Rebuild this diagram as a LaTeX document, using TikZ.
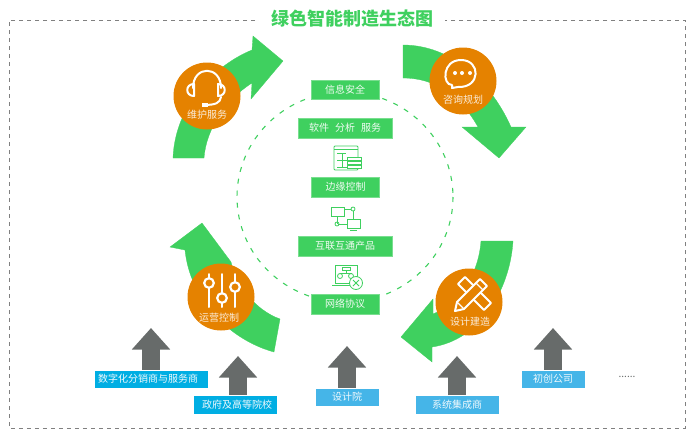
\documentclass[tikz,border=0pt]{standalone}
\usepackage{fontspec}
\setmainfont{Noto Sans CJK SC}
\usetikzlibrary{arrows.meta}
\definecolor{leaf}{HTML}{3FD05F}
\definecolor{amber}{HTML}{E58200}
\definecolor{slate}{HTML}{676B6A}
\definecolor{deepblue}{HTML}{00AEE3}
\definecolor{skyblue}{HTML}{45B5E8}
\tikzstyle{layerbox}=[fill=leaf,draw=leaf!70!white,line width=0.4pt,text=white!92!leaf,font=\fontsize{10}{10}\selectfont,inner sep=0pt,minimum height=19.5pt]
\tikzstyle{partnerbox}=[draw=white,line width=0.3pt,text=white!92!skyblue,font=\fontsize{10}{10}\selectfont,inner sep=0pt,minimum height=18.5pt]
\tikzstyle{stagedot}=[circle,fill=amber,minimum size=67pt,inner sep=0pt]
\tikzstyle{stagetext}=[text=white!85!amber,font=\fontsize{10}{10}\selectfont,inner sep=0pt]
\tikzstyle{support}=[slate,line width=18pt,-{Triangle[length=21.5pt,width=37pt]}]
\tikzstyle{swoosh}=[fill=leaf,draw=leaf,line width=0.3pt]
\tikzstyle{glyph}=[white,line width=2pt,line cap=round,line join=round]
\tikzstyle{iconline}=[leaf,line width=0.8pt]
\begin{document}
\begin{tikzpicture}[x=1pt,y=-1pt]
	\useasboundingbox (0,0) rectangle (693,437);
	\draw[gray,line width=0.8pt,dash pattern=on 4pt off 4pt] (255,20) -- (9,20) -- (9,428) -- (685,428) -- (685,20) -- (445,20);
	\node[text=leaf,font=\fontsize{18}{18}\bfseries\selectfont,inner sep=0pt] (title) at (352,19) {绿色智能制造生态图};
	\draw[leaf,line width=1.1pt,dash pattern=on 5pt off 7pt] (345,197) ellipse (108 and 105);

	\draw[swoosh] (173,158) .. controls (175,105) and (215,65) .. (252,50) -- (253,36) -- (283,61) -- (251,99) -- (252,83) .. controls (225,100) and (206,130) .. (204,158) -- cycle;
	\draw[swoosh] (403,45) .. controls (450,45) and (490,80) .. (511,127) -- (526,127) -- (499,158) -- (462,127) -- (478,127) .. controls (460,95) and (435,78) .. (403,78) -- cycle;
	\draw[swoosh] (513,241) .. controls (510,290) and (480,340) .. (432,347) -- (432,362) -- (401,337) -- (433,299) -- (433,314) .. controls (455,305) and (478,280) .. (481,241) -- cycle;
	\draw[swoosh] (274,352) .. controls (230,340) and (190,300) .. (185,250) -- (170,247) -- (202,223) -- (231,262) .. controls (236,285) and (255,310) .. (280,319) -- cycle;

	\node[stagedot] (repair) at (207,96) {};
	\node[stagedot] (consult) at (463,81) {};
	\node[stagedot] (build) at (469,302) {};
	\node[stagedot] (operate) at (221,297) {};
	\node[stagetext] (repairtext) at (207,115) {维护服务};
	\node[stagetext] (consulttext) at (463,100) {咨询规划};
	\node[stagetext] (buildtext) at (470,322) {设计建造};
	\node[stagetext] (operatetext) at (219,318) {运营控制};

	\draw[glyph] (193,88) .. controls (193,65) and (221,65) .. (221,88);
	\draw[glyph] (194,84) .. controls (185,84) and (185,96) .. (194,96) -- cycle;
	\draw[glyph] (218,84) .. controls (227,84) and (227,96) .. (218,96) -- cycle;
	\draw[glyph] (221,97) .. controls (220,103) and (216,105) .. (203,105);
	\fill[white] (202,103) rectangle (208,107);
	\draw[glyph] (461,60) .. controls (442,60) and (442,85) .. (452,85) -- (452,88) -- (458,87) .. controls (481,88) and (481,60) .. (461,60) -- cycle;
	\foreach \dotx in {455,462,470}
		\fill[white] (\dotx,73) circle (2);

	\foreach \bary/\barx in {283/209,298/222,287/235}{
		\draw[glyph] (\barx,274) -- (\barx,307);
		\draw[white,fill=amber,line width=2.2pt] (\barx,\bary) circle (4.8);
	}

	\draw[glyph] (458,284) -- (465,277) -- (491,303) -- (484,310) -- cycle;
	\draw[glyph,fill=amber] (455,311) -- (457,302) -- (480,279) -- (487,286) -- (464,309) -- cycle;
	\draw[glyph,line width=1.2pt] (476,283) -- (483,290) (457,302) -- (464,309);

	\node[layerbox,minimum width=68pt] (security) at (345,89.5) {信息安全};
	\node[layerbox,minimum width=94pt] (software) at (345,128) {软件\hspace{0.6em}分析\hspace{0.6em}服务};
	\node[layerbox,minimum width=68pt] (edge) at (345.5,187) {边缘控制};
	\node[layerbox,minimum width=94pt] (product) at (345,246) {互联互通产品};
	\node[layerbox,minimum width=68pt] (protocol) at (345,304) {网络协议};

	\draw[iconline,rounded corners=1pt] (334,146) rectangle (358,170);
	\draw[iconline] (334,149) -- (358,149);
	\draw[iconline] (337,153) -- (346,153) (337,160) -- (347,160) (337,167) -- (350,167) (342,153) -- (342,167);
	\foreach \rowy in {157,161,165}
		\draw[iconline,fill=white] (347,\rowy) rectangle (361,\rowy+3.5);

	\draw[iconline] (331,207) rectangle (344,216);
	\draw[iconline] (347,219) rectangle (360,228);
	\draw[iconline] (344,209) -- (351,209) (337,216) -- (337,224) (338,224) -- (347,224) (353,211) -- (353,219) (350,230) -- (357,230);
	\draw[iconline] (353,209) circle (2) (337,224) circle (2);

	\draw[iconline] (335,265) rectangle (357,283);
	\draw[iconline] (332,285) -- (352,285);
	\draw[iconline] (342,267) rectangle (350,270) (346,270) -- (346,273) (340,273) -- (352,273);
	\draw[iconline] (340,276) circle (2.5) (351,276) circle (2.5);
	\draw[iconline,fill=white] (356,283) circle (6.5);
	\draw[iconline] (353,280) -- (359,286) (359,280) -- (353,286);

	\node[partnerbox,fill=deepblue,minimum width=114pt] (dealer) at (151,379) {数字化分销商与服务商\hspace*{6pt}};
	\node[partnerbox,fill=deepblue,minimum width=84pt] (school) at (235,404.5) {\hspace*{4pt}政府及高等院校};
	\node[partnerbox,fill=skyblue,minimum width=64pt] (institute) at (347,397) {设计院};
	\node[partnerbox,fill=skyblue,minimum width=84pt] (integrator) at (457,404.5) {系统集成商};
	\node[partnerbox,fill=skyblue,minimum width=64pt] (startup) at (553,379) {初创公司};
	\node[text=slate,font=\fontsize{10}{10}\selectfont,inner sep=0pt] (others) at (627,377) {......};

	\coordinate (dealertip) at (151,328);
	\coordinate (schooltip) at (238,356);
	\coordinate (institutetip) at (347,346);
	\coordinate (integratortip) at (457,356);
	\coordinate (startuptip) at (553,328);
	\draw[support] (dealer.north) -- (dealertip);
	\draw[support] (school.north -| schooltip) -- (schooltip);
	\draw[support] (institute.north) -- (institutetip);
	\draw[support] (integrator.north) -- (integratortip);
	\draw[support] (startup.north) -- (startuptip);
\end{tikzpicture}
\end{document}
